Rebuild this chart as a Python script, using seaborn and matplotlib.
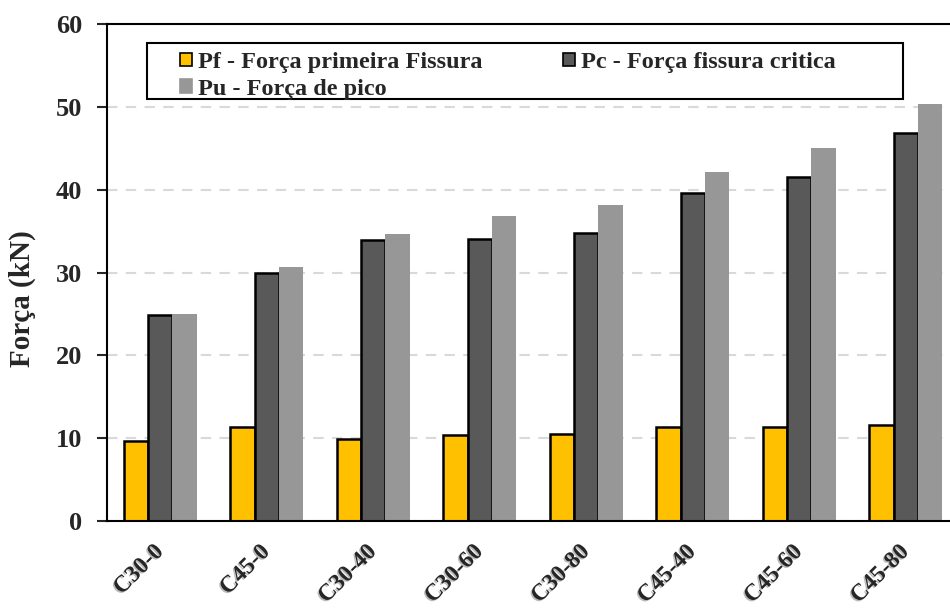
import matplotlib
matplotlib.use("Agg")
import matplotlib.pyplot as plt
import matplotlib.patheffects as pe
from matplotlib.patches import Patch, Rectangle
import numpy as np
import pandas as pd
import seaborn as sns

# Valores (kN)
amostras = ["C30-0", "C45-0", "C30-40", "C30-60", "C30-80", "C45-40", "C45-60", "C45-80"]
pf = [9.6, 11.3, 9.9, 10.4, 10.5, 11.3, 11.4, 11.6]
pc = [24.9, 30.0, 33.9, 34.1, 34.8, 39.6, 41.5, 46.8]
pu = [25.0, 30.7, 34.7, 36.8, 38.1, 42.1, 45.0, 50.4]

series = ["Pf - Força primeira Fissura", "Pc - Força fissura critica", "Pu - Força de pico"]
cores = ["#FFC000", "#595959", "#979797"]
bordas = ["black", "black", "none"]

df = pd.DataFrame({
    "amostra": amostras * 3,
    "forca": pf + pc + pu,
    "serie": [series[0]] * 8 + [series[1]] * 8 + [series[2]] * 8,
})

sns.set_style("white")
plt.rcParams["font.family"] = ["Liberation Serif", "DejaVu Serif"]
plt.rcParams["font.weight"] = "bold"

fig = plt.figure(figsize=(9.5, 6.14), dpi=100)
ax = fig.add_axes([107 / 950, 1 - 521 / 614, 852 / 950, 497 / 614])

sns.barplot(data=df, x="amostra", y="forca", hue="serie", palette=cores,
            width=0.69, saturation=1, legend=False, ax=ax)

for cont, ec in zip(ax.containers, bordas):
    for bar in cont:
        if ec == "none":
            bar.set_edgecolor("none")
        else:
            bar.set_edgecolor(ec)
            bar.set_linewidth(1.8)

ax.set_xlim(-0.5, 7.5)
ax.set_ylim(0, 60)
ax.set_yticks(np.arange(0, 61, 10))
ax.set_axisbelow(True)
ax.yaxis.grid(True, color="#D9D9D9", linestyle=(0, (5, 4)), linewidth=1.5)

for s in ["left", "bottom", "top"]:
    ax.spines[s].set_color("black")
    ax.spines[s].set_linewidth(1.5)
ax.spines["right"].set_visible(False)

ax.tick_params(axis="y", direction="out", length=7, width=1.5, pad=11,
               labelsize=19, left=True)
ax.tick_params(axis="x", length=0, pad=20, labelsize=17)
for t in ax.get_yticklabels():
    t.set_fontweight("bold")
for t in ax.get_xticklabels():
    t.set_fontweight("bold")
    t.set_rotation(45)
    t.set_ha("right")
    t.set_va("center")
    t.set_rotation_mode("anchor")
    t.set_path_effects([pe.SimplePatchShadow(offset=(-1, -1), shadow_rgbFace="#777777", alpha=0.5),
                        pe.Normal()])

ax.set_xlabel("")
ax.set_ylabel("Força (kN)", fontsize=21, fontweight="bold")
ax.yaxis.set_label_coords(-(107 - 36) / 852, (521 - 299) / 497)

# legenda (ordem para preencher por linhas: Pf, Pc / Pu)
ordem = [0, 2, 1]
handles = [Patch(facecolor=cores[i], edgecolor=(bordas[i] if bordas[i] != "none" else cores[i]),
                 linewidth=1.2) for i in ordem]
labels = [series[i] for i in ordem]
fig.legend(handles, labels, loc="upper left", bbox_to_anchor=(168 / 950, 1 - 40 / 614),
           ncol=2, frameon=False, handlelength=0.5, handleheight=0.5,
           handletextpad=0.25, columnspacing=3.3, labelspacing=0.22, borderpad=0,
           prop={"weight": "bold", "size": 17.5})
fig.patches.append(Rectangle((147 / 950, 1 - 99 / 614), 756 / 950, 56 / 614,
                             transform=fig.transFigure, fill=False,
                             edgecolor="black", linewidth=1.5))

fig.savefig("out.png", dpi=100)
